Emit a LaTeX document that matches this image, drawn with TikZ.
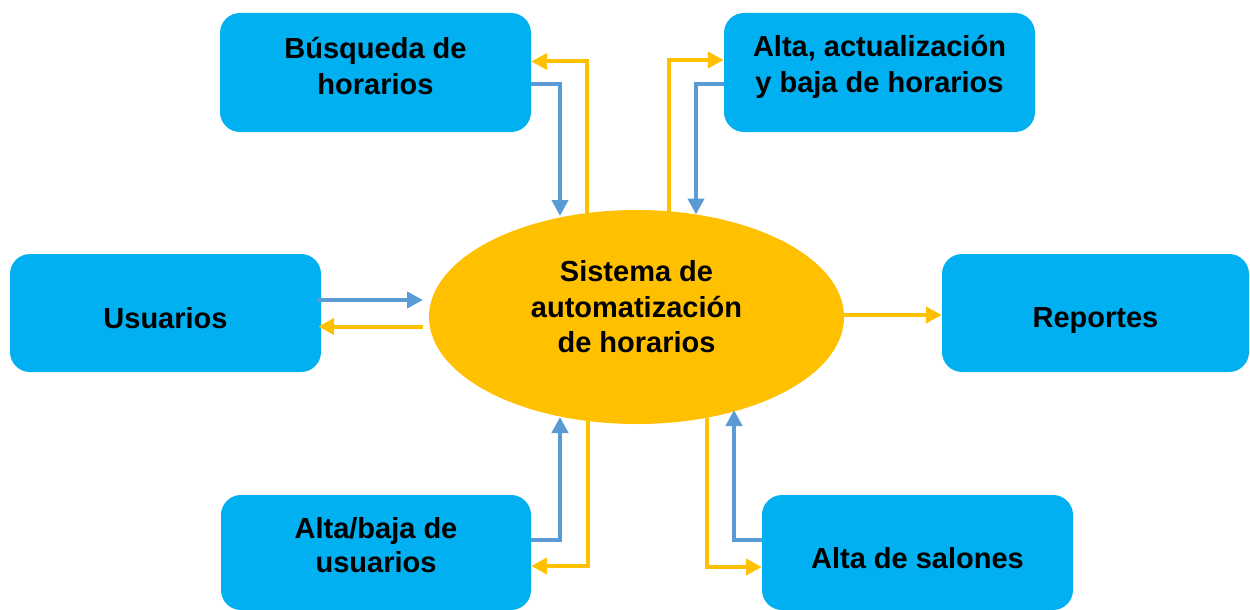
\documentclass[tikz,border=0pt]{standalone}
\usepackage{fontspec}
\setmainfont{Liberation Sans}
\usetikzlibrary{arrows.meta,shapes.geometric,calc}
\definecolor{boxcyan}{HTML}{00B0F0}
\definecolor{sysyellow}{HTML}{FFC000}
\definecolor{arrblue}{HTML}{5B9BD5}
\definecolor{arryellow}{HTML}{FFC000}
\begin{document}
\begin{tikzpicture}[x=1pt,y=-1pt,
  procbox/.style={draw=none,fill=boxcyan,rounded corners=20pt,inner sep=0pt,
    minimum width=311pt,minimum height=119pt},
  boxtext/.style={inner sep=0pt,align=center,
    font=\fontsize{29}{36}\selectfont\bfseries},
  sysnode/.style={ellipse,draw=none,fill=sysyellow,inner sep=0pt,
    minimum width=415pt,minimum height=214pt},
  flowblue/.style={draw=arrblue,line width=4pt,-{Triangle[length=16pt,width=16pt]}},
  flowyellow/.style={draw=arryellow,line width=4pt,-{Triangle[length=16pt,width=16pt]}}]
\useasboundingbox (0,0) rectangle (1250,610);
\clip (0,0) rectangle (1250,610);

\node[sysnode] (sys) at (636.5,317) {};
\node[boxtext,font=\fontsize{29}{35.5}\selectfont\bfseries] (systxt) at (636.5,307) {Sistema de\\automatización\\de horarios};

\node[procbox] (bus) at (375.5,72.5) {};
\node[boxtext] (bustxt) at (375.5,66.5) {Búsqueda de\\horarios};
\node[procbox] (alta) at (879.5,72.5) {};
\node[boxtext] (altatxt) at (879.5,66.5) {Alta, actualización\\y baja de horarios};
\node[procbox,minimum height=118pt] (usu) at (165.5,313) {};
\node[boxtext] (usutxt) at (165.5,318) {Usuarios};
\node[procbox,minimum width=307pt,minimum height=118pt] (rep) at (1095.5,313) {};
\node[boxtext] (reptxt) at (1095.5,321) {Reportes};
\node[procbox,minimum width=310pt,minimum height=115pt] (ab) at (376,552.5) {};
\node[boxtext,font=\fontsize{29}{34}\selectfont\bfseries] (abtxt) at (376,545.5) {Alta/baja de\\usuarios};
\node[procbox,minimum height=115pt] (sal) at (917.5,552.5) {};
\node[boxtext] (saltxt) at (917.5,558) {Alta de salones};

% touch points on the ellipse
\coordinate (sBusIn) at (560,216);
\coordinate (sBusOut) at (587,213);
\coordinate (sAltOut) at (669,211.5);
\coordinate (sAltIn) at (696,214.5);
\coordinate (sUsuIn) at (423,300);
\coordinate (sUsuOut) at (423,326.5);
\coordinate (sAbIn) at (560,417);
\coordinate (sAbOut) at (588,421);
\coordinate (sSalOut) at (707,417.5);
\coordinate (sSalIn) at (734,410);

% Busqueda de horarios
\draw[flowblue] ($(bus.east)+(0,11.5)$) -| (sBusIn);
\draw[flowyellow] (sBusOut) |- ($(bus.east)+(0,-11)$);
% Alta, actualizacion
\draw[flowyellow] (sAltOut) |- ($(alta.west)+(0,-12.5)$);
\draw[flowblue] ($(alta.west)+(0,11.5)$) -| (sAltIn);
% Usuarios
\draw[flowblue] ($(usu.east)+(-4,-13)$) -- (sUsuIn);
\draw[flowyellow] (sUsuOut) -- ($(usu.east)+(-3,13.5)$);
% Reportes
\draw[flowyellow] ($(sys.east)+(0,-2)$) -- ($(sys.east -| rep.west)+(0,-2)$);
% Alta/baja de usuarios
\draw[flowblue] ($(ab.east)+(0,-12.5)$) -| (sAbIn);
\draw[flowyellow] (sAbOut) |- ($(ab.east)+(0,13.5)$);
% Alta de salones
\draw[flowyellow] (sSalOut) |- ($(sal.west)+(0,14.5)$);
\draw[flowblue] ($(sal.west)+(0,-12.5)$) -| (sSalIn);
\end{tikzpicture}
\end{document}
